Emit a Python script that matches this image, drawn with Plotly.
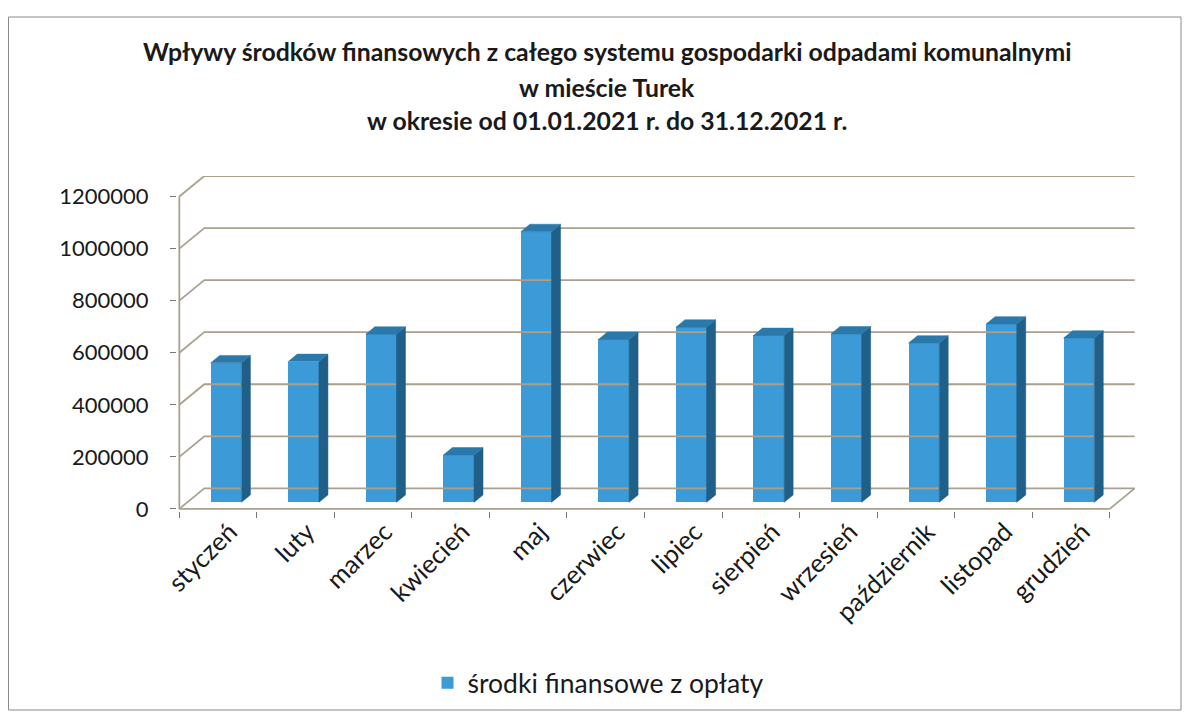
import plotly.graph_objects as go

# ---- data ----
months = ["styczeń", "luty", "marzec", "kwiecień", "maj", "czerwiec",
          "lipiec", "sierpień", "wrzesień", "październik", "listopad", "grudzień"]
values = [536000, 541000, 646000, 182000, 1040000, 626000,
          673000, 641000, 647000, 612000, 685000, 631000]
y_ticks = [0, 200000, 400000, 600000, 800000, 1000000, 1200000]
series_name = "środki finansowe z opłaty"
title_lines = ["Wpływy środków finansowych z całego systemu gospodarki odpadami komunalnymi",
               "w mieście Turek",
               "w okresie od 01.01.2021 r. do 31.12.2021 r."]

# ---- geometry (pseudo-3D) ----
OFF = 8                        # page body margin
W, H = 1192 - OFF, 713 - OFF
DX, DY = 0.322, 79000          # depth of the box in data units
F1, F2 = 0.32, 0.68            # bar front/back depth fractions
HALF = 0.198                   # half width of bar front face
n = len(months)
x0, x1 = -0.53, n - 0.5 + DX + 0.03
y0, y1 = -8000, y_ticks[-1] + DY
ML = 177 - OFF
MT = 176 - OFF
MR = W - (1137 - OFF)
MB = H - (511 - OFF)
PW, PH = W - ML - MR, H - MT - MB

def px(xp):
    return (xp - OFF - ML) / PW

def py(yp):
    return (H - MB - (yp - OFF)) / PH

def cx(xp):
    return (xp - OFF) / W

def cy(yp):
    return 1 - (yp - OFF) / H

FONT = "Lato"
GRID = "#a8a18e"
FRONT = "#3c9ad6"
SIDE = "#1f5f88"
TOP = "#2b78aa"

fig = go.Figure()

# back wall gridlines + left wall connectors
gx, gy = [], []
for t in y_ticks:
    gx += [-0.5, -0.5 + DX, n - 0.5 + DX, None]
    gy += [t, t + DY, t + DY, None]
# floor right edge, front edge, value axis line
gx += [n - 0.5, n - 0.5 + DX, None, -0.5, n - 0.5, None, -0.5, -0.5]
gy += [0, DY, None, 0, 0, None, 0, y_ticks[-1]]
fig.add_trace(go.Scatter(x=gx, y=gy, mode="lines", line=dict(color=GRID, width=1.8),
                         hoverinfo="skip", showlegend=False))

# bar faces
ox1, oy1 = F1 * DX, F1 * DY
ddx, ddy = (F2 - F1) * DX, (F2 - F1) * DY
sx, sy, tx, ty = [], [], [], []
for i, v in enumerate(values):
    xl, xr = i + ox1 - HALF, i + ox1 + HALF
    sx += [xr, xr + ddx, xr + ddx, xr, xr, None]
    sy += [oy1, oy1 + ddy, oy1 + ddy + v, oy1 + v, oy1, None]
    tx += [xl, xr, xr + ddx, xl + ddx, xl, None]
    ty += [oy1 + v, oy1 + v, oy1 + ddy + v, oy1 + ddy + v, oy1 + v, None]

fig.add_trace(go.Scatter(x=sx, y=sy, mode="lines", fill="toself", fillcolor=SIDE,
                         line=dict(width=0.5, color=SIDE), hoverinfo="skip", showlegend=False))
fig.add_trace(go.Scatter(x=tx, y=ty, mode="lines", fill="toself", fillcolor=TOP,
                         line=dict(width=0.5, color=TOP), hoverinfo="skip", showlegend=False))
fig.add_trace(go.Bar(x=[i + ox1 for i in range(n)], y=values, base=[oy1] * n,
                     width=2 * HALF, marker=dict(color=FRONT, line=dict(width=0)),
                     name=series_name, showlegend=True))

# title
for line, yp in zip(title_lines, [52, 87, 120]):
    fig.add_annotation(text="<b>%s</b>" % line, xref="paper", yref="paper",
                       x=px(607), y=py(yp), xanchor="center", yanchor="middle",
                       showarrow=False, font=dict(family=FONT, size=24.8, color="#1a1a1a"))

# frame
fig.add_shape(type="rect", xref="paper", yref="paper", x0=px(8.5), x1=px(1181),
              y0=py(710), y1=py(17), line=dict(color="#8a8a8a", width=1))

fig.update_layout(
    width=W, height=H,
    margin=dict(l=ML, r=MR, t=MT, b=MB, autoexpand=False),
    paper_bgcolor="white", plot_bgcolor="white",
    bargap=0,
    xaxis=dict(range=[x0, x1], tickvals=[i + 0.15 for i in range(n)], ticktext=months,
               tickangle=-45, ticks="", showgrid=False, zeroline=False, showline=False,
               automargin=False,
               tickfont=dict(family=FONT, size=25.5, color="#1a1a1a"),
               minor=dict(tickvals=[i - 0.5 for i in range(n + 1)], ticks="outside",
                          ticklen=6, tickcolor="#777", tickwidth=1.2, showgrid=False)),
    yaxis=dict(range=[y0, y1], tickvals=y_ticks, ticktext=[str(t) for t in y_ticks],
               ticks="outside", ticklen=6, tickcolor="#777", tickwidth=1.2,
               showgrid=False, zeroline=False, showline=False, ticklabelstandoff=17,
               automargin=False,
               tickfont=dict(family=FONT, size=22, color="#1a1a1a")),
    legend=dict(orientation="h", xref="container", yref="container",
                x=cx(598), y=cy(683), xanchor="center", yanchor="middle",
                font=dict(family=FONT, size=26.5, color="#1a1a1a"), itemwidth=30),
    showlegend=True,
)

fig.write_html("out.html")
